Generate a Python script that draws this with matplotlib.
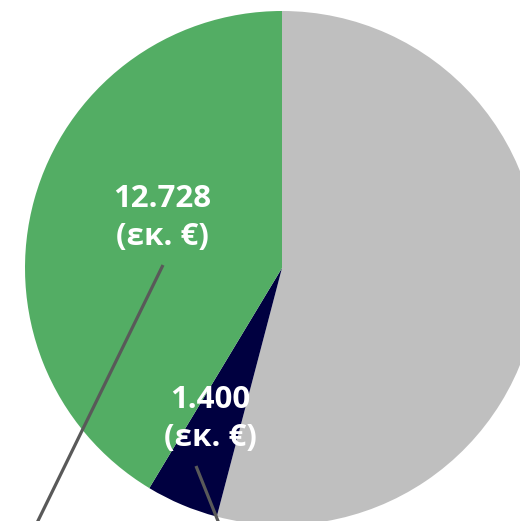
import matplotlib
matplotlib.use("Agg")
import matplotlib.pyplot as plt

# Data (values in thousand €)
categories = ["Λοιπά", "Κατηγορία Β", "Κατηγορία Α"]
values = [16641, 1400, 12728]
label_texts = ["", "1.400\n(εκ. €)", "12.728\n(εκ. €)"]
colors = ["#BFBFBF", "#000040", "#53AD64"]

W, H = 520, 521
fig = plt.figure(figsize=(W / 100, H / 100), dpi=100)
ax = fig.add_axes([0, 0, 1, 1])

cx, cy, r = 282, H - 268, 257
ax.pie(values, colors=colors, startangle=90, counterclock=False,
       center=(cx, cy), radius=r, frame=True,
       wedgeprops=dict(linewidth=0))
ax.set_xlim(0, W)
ax.set_ylim(0, H)
ax.set_aspect("equal")
ax.axis("off")

# leader lines
ax.plot([163, 33], [H - 265, H - 531], color="#595959", lw=2.3, solid_capstyle="butt", zorder=3)
ax.plot([196, 220], [H - 466, H - 526], color="#595959", lw=2.3, solid_capstyle="butt", zorder=3)

# data labels
pos = {1: (210, H - 419), 2: (162, H - 218)}
for i, (x, y) in pos.items():
    ax.text(x, y, label_texts[i], ha="center", va="center", color="white",
            fontsize=22.5, fontweight="bold", family=["Open Sans", "DejaVu Sans"],
            linespacing=1.32, zorder=4)

fig.savefig("out.png", dpi=100)
